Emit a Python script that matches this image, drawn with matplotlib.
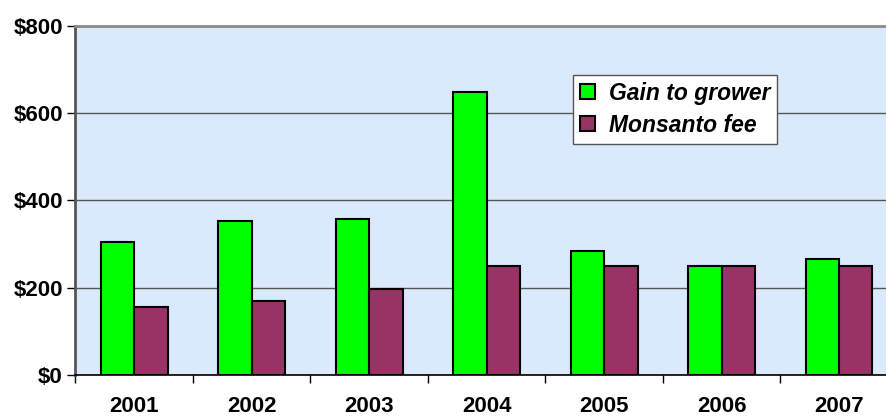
import numpy as np
import matplotlib
matplotlib.use('Agg')
import matplotlib.pyplot as plt
import matplotlib.ticker as mticker

plt.rcParams.update({
    'font.family': ['Liberation Sans', 'DejaVu Sans'],
    'font.weight': 'bold',
})

years = ['2001', '2002', '2003', '2004', '2005', '2006', '2007']
gain_to_grower = [305, 353, 358, 648, 285, 250, 265]
monsanto_fee = [155, 170, 198, 250, 250, 250, 250]

GREEN = '#00ff00'
MAROON = '#993366'
PLOT_BG = '#dae9fb'

fig = plt.figure(figsize=(8.87, 4.18), dpi=100)
fig.patch.set_facecolor('white')
# plot area runs a little past the right edge of the canvas
ax = fig.add_axes([0.0851, 0.1029, 0.927, 0.835])
ax.set_facecolor(PLOT_BG)

x = np.arange(len(years))
w = 0.285
ax.bar(x - w / 2, gain_to_grower, w, color=GREEN, edgecolor='black',
       linewidth=1.5, label='Gain to grower', zorder=3)
ax.bar(x + w / 2, monsanto_fee, w, color=MAROON, edgecolor='black',
       linewidth=1.5, label='Monsanto fee', zorder=3)

ax.set_xlim(-0.5, len(years) - 0.5)
ax.set_ylim(0, 800)

ax.yaxis.set_major_locator(mticker.MultipleLocator(200))
ax.yaxis.set_major_formatter(mticker.FuncFormatter(lambda v, p: f'${v:.0f}'))
ax.grid(axis='y', color='#555555', linewidth=1.0, zorder=1)
ax.set_axisbelow(True)

ax.set_xticks(x)
ax.set_xticklabels(years)
ax.set_xticks(np.arange(-0.5, len(years), 1.0), minor=True)
ax.tick_params(axis='x', which='major', length=0, pad=15, labelsize=16)
ax.tick_params(axis='x', which='minor', length=6, width=1, color='black')
ax.tick_params(axis='y', length=6, width=1, color='black', pad=3, labelsize=16)

ax.spines['right'].set_visible(False)
ax.spines['top'].set_color('#8a8a8a')
ax.spines['top'].set_linewidth(2)
ax.spines['left'].set_color('#555555')
ax.spines['left'].set_linewidth(2)
ax.spines['bottom'].set_color('black')
ax.spines['bottom'].set_linewidth(1.2)

leg = ax.legend(loc='upper left', bbox_to_anchor=(0.6055, 0.86),
                prop={'family': ['Liberation Sans'], 'weight': 'bold',
                      'style': 'italic', 'size': 16.5},
                frameon=True, fancybox=False, framealpha=1,
                edgecolor='#555555', handlelength=0.65, handleheight=0.65,
                handletextpad=0.6, labelspacing=0.4, borderpad=0.3,
                borderaxespad=0)
leg.get_frame().set_linewidth(1.0)

fig.savefig('out.png', dpi=100)
